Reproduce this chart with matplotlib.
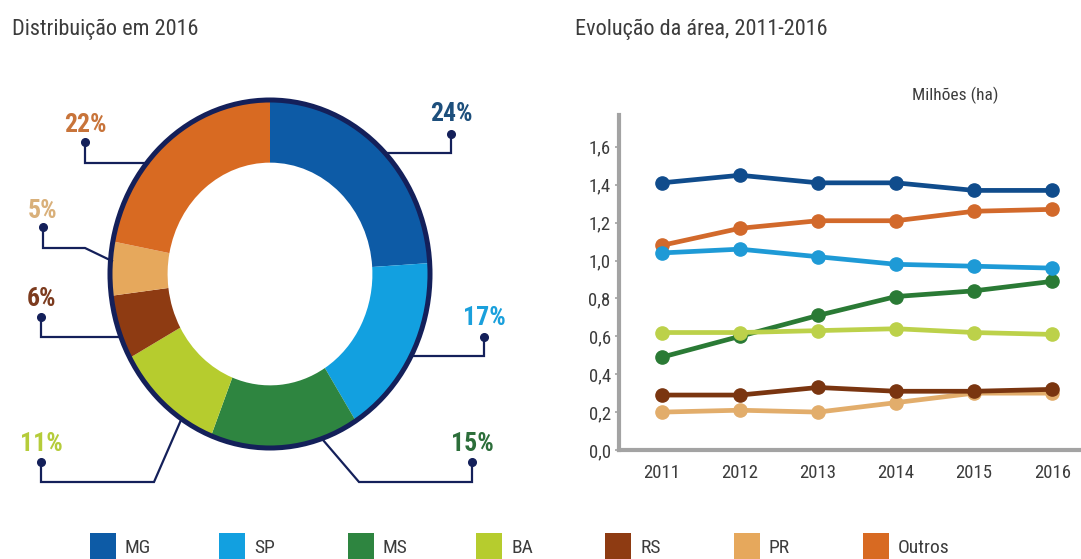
import matplotlib
matplotlib.use("Agg")
import matplotlib.pyplot as plt
from matplotlib.patches import Circle, Rectangle
from matplotlib.ticker import FuncFormatter

plt.rcParams['font.family'] = ['Liberation Sans Narrow', 'Roboto Condensed', 'Roboto', 'DejaVu Sans']

W, H = 1081, 559

states = ['MG', 'SP', 'MS', 'BA', 'RS', 'PR', 'Outros']
share_2016 = [24, 17, 15, 11, 6, 5, 22]

years = [2011, 2012, 2013, 2014, 2015, 2016]
area_mg = [1.41, 1.45, 1.41, 1.41, 1.37, 1.37]
area_sp = [1.04, 1.06, 1.02, 0.98, 0.97, 0.96]
area_ms = [0.49, 0.60, 0.71, 0.81, 0.84, 0.89]
area_ba = [0.62, 0.62, 0.63, 0.64, 0.62, 0.61]
area_rs = [0.29, 0.29, 0.33, 0.31, 0.31, 0.32]
area_pr = [0.20, 0.21, 0.20, 0.25, 0.30, 0.30]
area_outros = [1.08, 1.17, 1.21, 1.21, 1.26, 1.27]

pie_colors = ['#0d5ba6', '#12a0e0', '#2e8540', '#b6cc2e', '#8e3b12', '#e6a85c', '#d86a22']
line_colors = ['#104c8c', '#1e9ad6', '#2a7a35', '#bcd14a', '#7a3510', '#e2ad6b', '#d2692b']
label_colors = ['#1d4f7c', '#1aa0dc', '#2c6e3a', '#b5cc3a', '#7c3b1e', '#d9b07a', '#c8743a']
navy = '#14205a'
grey_text = '#3c3c3c'


def px_box(x0, y0, x1, y1):
    return [x0 / W, 1 - y1 / H, (x1 - x0) / W, (y1 - y0) / H]


fig = plt.figure(figsize=(W / 100, H / 100), dpi=100)

# donut
ax_pie = fig.add_axes(px_box(110, 100, 430, 448))
ax_pie.pie(share_2016, colors=pie_colors, startangle=90, counterclock=False,
           radius=1, wedgeprops=dict(width=0.36, edgecolor='none'))
ax_pie.set_aspect('auto')
ax_pie.set_xlim(-1, 1)
ax_pie.set_ylim(-1, 1)
ax_pie.add_patch(Circle((0, 0), 1, fill=False, lw=3.6, ec=navy, clip_on=False))
ax_pie.axis('off')

# line chart
ax = fig.add_axes(px_box(619, 115, 1081, 450))
series = [area_mg, area_sp, area_ms, area_ba, area_rs, area_pr, area_outros]
draw_order = [6, 5, 4, 2, 3, 1, 0]
for i in draw_order:
    ax.plot(years, series[i], color=line_colors[i], lw=3.4, marker='o',
            markersize=9.5, solid_capstyle='round')
ax.set_xlim(2010.45, 2016.37)
ax.set_ylim(0, 1.768)
ax.set_xticks(years)
ax.set_yticks([0.0, 0.2, 0.4, 0.6, 0.8, 1.0, 1.2, 1.4, 1.6])
ax.yaxis.set_major_formatter(FuncFormatter(lambda v, p: f'{v:.1f}'.replace('.', ',')))
for side in ['top', 'right']:
    ax.spines[side].set_visible(False)
for side in ['left', 'bottom']:
    ax.spines[side].set_color('#a3a3a3')
    ax.spines[side].set_linewidth(3)
ax.tick_params(axis='y', length=3, width=1.2, color='#a3a3a3', pad=3,
               labelsize=13.5, labelcolor=grey_text)
ax.tick_params(axis='x', length=0, pad=10, labelsize=13.5, labelcolor=grey_text)
ax.patch.set_alpha(0)

# overlay in pixel coordinates for titles, leaders and legend
ov = fig.add_axes([0, 0, 1, 1], zorder=5)
ov.set_xlim(0, W)
ov.set_ylim(H, 0)
ov.axis('off')
ov.patch.set_alpha(0)

ov.text(12, 35, 'Distribuição em 2016', fontsize=16, color=grey_text, va='baseline')
ov.text(575, 35, 'Evolução da área, 2011-2016', fontsize=16, color=grey_text, va='baseline')
ov.text(955, 95, 'Milhões (ha)', fontsize=12.5, color=grey_text, ha='center', va='center')

# leader paths: label centre, then polyline from the dot to the ring
leaders = [
    ((451, 114), [(451, 134), (451, 153), (386, 153)]),
    ((484, 318), [(484, 337), (484, 356), (412, 356)]),
    ((472, 444), [(472, 462), (472, 482), (359, 482), (323, 440)]),
    ((41, 444), [(41, 462), (41, 482), (154, 482), (181, 420)]),
    ((41, 299), [(41, 317), (41, 337), (121, 337)]),
    ((43, 211), [(43, 227), (43, 248), (85, 248), (112, 261)]),
    ((85, 125), [(85, 142), (85, 163), (148, 163)]),
]
for (pos, path), val, col in zip(leaders, share_2016, label_colors):
    ov.text(pos[0], pos[1], f'{val}%', fontsize=18.5, fontweight='bold', color=col,
            ha='center', va='center')
    xs = [p[0] for p in path]
    ys = [p[1] for p in path]
    ov.plot(xs, ys, color=navy, lw=1.6, solid_joinstyle='miter')
    ov.plot(xs[0], ys[0], 'o', color=navy, markersize=5.5)

# legend row
for i, (name, col) in enumerate(zip(states, pie_colors)):
    x = 90 + i * 128.8
    ov.add_patch(Rectangle((x, 533), 26, 30, color=col, lw=0))
    ov.text(x + 35, 548, name, fontsize=14, color=grey_text, va='center')

fig.savefig('out.png', dpi=100, facecolor='white')
